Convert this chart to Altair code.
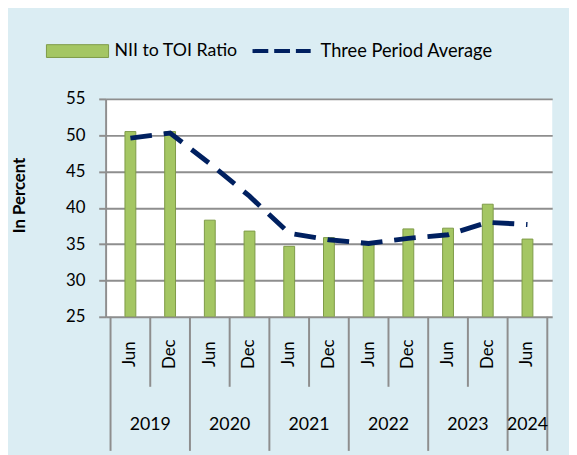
import altair as alt
import pandas as pd

months = ["Jun", "Dec", "Jun", "Dec", "Jun", "Dec", "Jun", "Dec", "Jun", "Dec", "Jun"]
years = ["2019", "2019", "2020", "2020", "2021", "2021", "2022", "2022", "2023", "2023", "2024"]
ratio = [50.5, 50.5, 38.3, 36.8, 34.7, 35.9, 35.0, 37.1, 37.2, 40.5, 35.7]
avg3 = [49.6, 50.3, 46.1, 41.6, 36.5, 35.6, 35.1, 35.8, 36.3, 38.0, 37.7]
y_ticks = [25, 30, 35, 40, 45, 50, 55]
legend_labels = ["NII to TOI Ratio", "Three Period Average"]
y_title = "In Percent"

FONT = "Lato"
W, H = 453, 221
GRID = "#8E8E8E"
GREEN = "#A4C663"
NAVY = "#002060"

n = len(months)
df = pd.DataFrame({
    "pos": [i + 0.5 for i in range(n)],
    "month": months,
    "year": years,
    "ratio": ratio,
    "avg": avg3,
})

seps = []
for i in range(n + 1):
    long = i == 0 or i == n or years[i] != years[i - 1]
    seps.append({"b": i, "long": long})
sep_df = pd.DataFrame(seps)

year_rows = []
for yv in dict.fromkeys(years):
    idx = [i for i, v in enumerate(years) if v == yv]
    year_rows.append({"year": yv, "c": (min(idx) + max(idx) + 1) / 2})
year_df = pd.DataFrame(year_rows)

xs = alt.Scale(domain=[0, n], nice=False, zero=False)
ys = alt.Scale(domain=[25, 55], nice=False, zero=False)
yaxis = alt.Axis(values=y_ticks, tickCount=7, title=None, labelFontSize=17, labelFont=FONT,
                 labelColor="black", tickSize=7, tickColor=GRID, tickWidth=2,
                 domainColor=GRID, domainWidth=2, grid=True, gridColor=GRID,
                 gridWidth=2, labelPadding=14, labelOverlap=False)

base = alt.Chart(df)

bars = base.mark_bar(size=11, color=GREEN, stroke="#7E9A47", strokeWidth=1, clip=True).encode(
    x=alt.X("pos:Q", scale=xs, axis=None),
    y=alt.Y("ratio:Q", scale=ys, axis=yaxis),
    y2=alt.Y2(datum=25),
)

line = base.mark_line(color=NAVY, strokeWidth=5, strokeDash=[22, 12]).encode(
    x=alt.X("pos:Q", scale=xs, axis=None),
    y=alt.Y("avg:Q", scale=ys, axis=yaxis),
)

sep_long = alt.Chart(sep_df[sep_df["long"]]).mark_rule(color=GRID, strokeWidth=2).encode(
    x=alt.X("b:Q", scale=xs, axis=None), y=alt.value(H), y2=alt.value(H + 136))
sep_short = alt.Chart(sep_df[~sep_df["long"]]).mark_rule(color=GRID, strokeWidth=2).encode(
    x=alt.X("b:Q", scale=xs, axis=None), y=alt.value(H), y2=alt.value(H + 71))

month_txt = base.mark_text(angle=270, fontSize=17, font=FONT, color="black",
                           align="center", baseline="middle").encode(
    x=alt.X("pos:Q", scale=xs, axis=None), y=alt.value(H + 38), text="month:N")

year_txt = alt.Chart(year_df).mark_text(fontSize=18, font=FONT, color="black",
                                        align="center", baseline="middle").encode(
    x=alt.X("c:Q", scale=xs, axis=None), y=alt.value(H + 110), text="year:N")

title_txt = alt.Chart(pd.DataFrame({"t": [y_title]})).mark_text(
    angle=270, fontSize=17, font=FONT, fontWeight="bold", color="black",
    align="center", baseline="middle").encode(
    x=alt.value(-87), y=alt.value(98), text="t:N")

leg_df1 = pd.DataFrame({"t": [legend_labels[0]]})
leg_df2 = pd.DataFrame({"t": [legend_labels[1]]})
leg_rect = alt.Chart(leg_df1).mark_rect(color=GREEN, stroke="#7E9A47", strokeWidth=1).encode(
    x=alt.value(-60), x2=alt.value(3), y=alt.value(-55), y2=alt.value(-42))
leg_t1 = alt.Chart(leg_df1).mark_text(fontSize=18, font=FONT, color="black",
                                      align="left", baseline="middle").encode(
    x=alt.value(9), y=alt.value(-48.5), text="t:N")
leg_line = alt.Chart(leg_df2).mark_rule(color=NAVY, strokeWidth=4, strokeDash=[16, 6]).encode(
    x=alt.value(149), x2=alt.value(208), y=alt.value(-48.5))
leg_t2 = alt.Chart(leg_df2).mark_text(fontSize=18.5, font=FONT, color="black",
                                      align="left", baseline="middle").encode(
    x=alt.value(218), y=alt.value(-48.5), text="t:N")

chart = alt.layer(
    bars, line, sep_long, sep_short, month_txt, year_txt, title_txt,
    leg_rect, leg_t1, leg_line, leg_t2
).properties(
    width=W, height=H,
    padding={"left": 99, "top": 89, "right": 17, "bottom": 137},
    autosize=alt.AutoSizeParams(type="none"),
    background="#DBEDF3",
).configure_view(fill="white", stroke=None)

chart.save("out.html", embed_options={"renderer": "svg", "actions": False})
